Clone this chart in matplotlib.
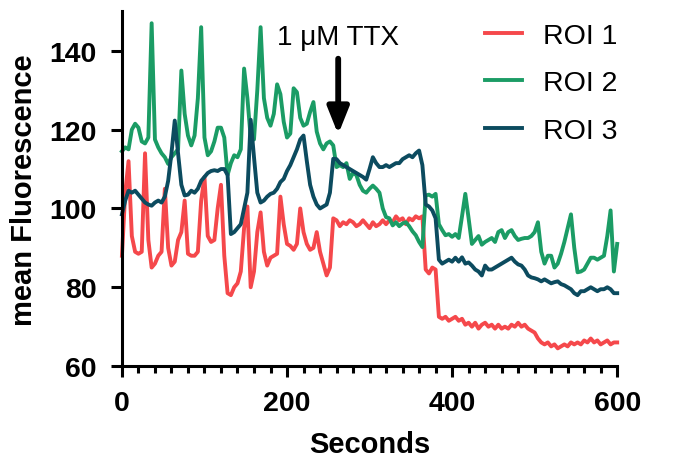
import matplotlib
matplotlib.use("Agg")
import matplotlib.pyplot as plt
import numpy as np
from matplotlib.ticker import MultipleLocator

plt.rcParams["font.family"] = ["Liberation Sans", "DejaVu Sans"]

# sampling: one frame every 4 s
SECONDS = np.arange(0, 601, 4)

ROI_1 = [
    88, 104, 112, 93, 89, 88.5, 89, 114, 92, 85,
    86, 88, 89, 105, 90, 85.5, 86.5, 92, 94, 102,
    88.5, 88, 88, 89, 102, 108, 93, 91.5, 92, 100,
    106, 88, 78.5, 78, 80, 81, 84, 95, 100.5, 80,
    84, 94, 99, 89, 85.5, 87.5, 88, 88.5, 103, 96,
    91, 90.5, 89.5, 91, 100, 94, 91, 89.5, 90, 94,
    89, 86, 83, 85, 97.5, 97, 95.5, 96.5, 96, 97,
    96.5, 95.5, 96, 97, 96, 95, 96.5, 95.5, 96, 97,
    96, 97, 96.5, 98, 97, 97.5, 96, 97.5, 97, 98,
    97.5, 98, 84.5, 83.5, 85, 84.5, 72.5, 72, 72.5, 71.5,
    72, 72.5, 71.5, 72, 70.5, 71, 70, 71, 69.5, 70.5,
    71, 70, 70.5, 69.5, 70.5, 69.5, 70, 69.5, 70.5, 70,
    71, 70, 70.5, 69.5, 69, 68.5, 67, 66, 65.5, 66,
    65, 65.5, 64.5, 65, 65.5, 65, 66, 65.5, 66, 65.5,
    66.5, 66, 67, 66, 66.5, 65.5, 66, 66.5, 65.5, 66,
    66,
]

ROI_2 = [
    114.5, 115.5, 115, 120, 121.5, 120.5, 117, 116.5, 118, 147,
    117.5, 115.5, 114, 113, 111.3, 113, 114, 115, 135, 124,
    118.5, 116, 118.5, 128, 146, 118, 113.5, 114.5, 117, 120.5,
    120.5, 118, 108.5, 111.5, 113.5, 113, 115, 135.5, 128, 118,
    117.5, 130, 146, 128, 123, 121, 124, 131.5, 129, 122,
    118, 119, 130.5, 129.5, 123, 121, 121.5, 124.5, 127, 119.5,
    116.5, 115, 116.5, 117, 116, 110.5, 111, 110.5, 111.5, 107.5,
    109, 108.5, 106, 104.5, 104, 105, 105.8, 105, 104, 100,
    97.8, 97.5, 95.7, 96.5, 95.5, 96.2, 96.5, 95.5, 94.2, 93.2,
    91.5, 90.2, 103.3, 103.5, 103, 103.7, 96, 94.5, 93.2, 93.5,
    92.8, 93.5, 92.5, 98, 103.7, 97.5, 91, 92, 93, 90.8,
    91.5, 92, 92.5, 91.5, 94, 94.5, 92.5, 94, 94.5, 93,
    92, 92.3, 92.5, 92.5, 93, 94, 96.5, 89, 86, 88,
    88, 85, 86, 88.5, 91.5, 95, 98.5, 90, 83.8, 84,
    84.5, 86, 87.5, 87.5, 87, 87.5, 88, 93, 99.5, 84,
    91,
]

ROI_3 = [
    98.5, 102, 104.5, 104, 104.5, 103.5, 102.5, 101.5, 101, 100.7,
    101.5, 102, 101.5, 103, 107, 114, 122.3, 114, 106, 103.3,
    103.5, 104.5, 104, 105, 107, 108, 109, 109.5, 109.7, 109.5,
    110, 110, 108.5, 93.5, 94, 95, 96, 100, 104, 122.5,
    113, 104, 101.5, 102, 103, 103.7, 104, 105, 106.7, 107.5,
    109.5, 111, 113, 115, 117.5, 118.5, 112, 106, 103, 101,
    100, 100.5, 101, 104, 112.6, 112.5, 111.5, 111, 110.5, 110,
    109.5, 109, 108.5, 108, 107.3, 110, 113, 111.5, 110.5, 110.5,
    111, 110.5, 111, 111.5, 111.5, 112.5, 113, 113.5, 113, 114,
    114.7, 111, 101, 100.5, 99.5, 97.5, 87, 86, 86.5, 87,
    86.5, 87.5, 86.5, 87.6, 86, 86.3, 85.5, 84.5, 84, 83,
    85.5, 84.5, 84.5, 85, 85.5, 86, 86.5, 87, 87.5, 86.5,
    85.8, 85.5, 84.5, 83, 82.5, 82.3, 82, 81.5, 82, 81.5,
    81, 81.3, 81.5, 80.8, 80.5, 80, 79.5, 78.5, 78, 79,
    79, 79.5, 80, 79.5, 79, 79.5, 79.5, 80, 79.5, 78.5,
    78.5,
]

LABELS = ["ROI 1", "ROI 2", "ROI 3"]
COLORS = ["#f5484b", "#1b9c65", "#0c4b5f"]

TTX_TIME = 262


def make_graph():
    fig = plt.figure(figsize=(6.85, 4.6), dpi=100)
    ax = fig.add_axes([0.178, 0.202, 0.723, 0.771])

    for values, label, color in zip([ROI_1, ROI_2, ROI_3], LABELS, COLORS):
        ax.plot(SECONDS, values, color=color, lw=2.8, label=label,
                solid_joinstyle="round", clip_on=False)

    ax.set_xlim(0, 600)
    ax.set_ylim(60, 150)
    ax.xaxis.set_major_locator(MultipleLocator(200))
    ax.xaxis.set_minor_locator(MultipleLocator(20))
    ax.set_yticks([60, 80, 100, 120, 140])

    for side in ["top", "right"]:
        ax.spines[side].set_visible(False)
    for side in ["left", "bottom"]:
        ax.spines[side].set_linewidth(2.2)

    ax.tick_params(which="major", length=8, width=2.2, labelsize=20.5)
    ax.tick_params(which="minor", length=5, width=2.2)
    ax.tick_params(axis="x", which="major", pad=9)
    ax.tick_params(axis="y", which="major", pad=10)
    for lab in ax.get_xticklabels() + ax.get_yticklabels():
        lab.set_fontweight("bold")

    ax.set_xlabel("Seconds", fontsize=21, fontweight="bold", labelpad=10)
    ax.set_ylabel("mean Fluorescence", fontsize=21, fontweight="bold", labelpad=8)

    # TTX application
    ax.annotate("", xy=(TTX_TIME, 118.8), xytext=(TTX_TIME, 138),
                arrowprops=dict(arrowstyle="-|>,head_width=0.32,head_length=0.8",
                                mutation_scale=20, lw=4.2, color="black",
                                shrinkA=0, shrinkB=0),
                annotation_clip=False)
    ax.text(TTX_TIME, 140.2, "1 \u03bcM TTX", fontsize=20, ha="center", va="bottom")

    ax.legend(loc="upper left", bbox_to_anchor=(485 / 685, 1 - 24 / 460),
              bbox_transform=fig.transFigure, frameon=False, fontsize=20.5,
              handlelength=1.3, handletextpad=0.75, labelspacing=0.75,
              borderpad=0, borderaxespad=0)

    fig.savefig("out.png", dpi=100)


if __name__ == "__main__":
    make_graph()
